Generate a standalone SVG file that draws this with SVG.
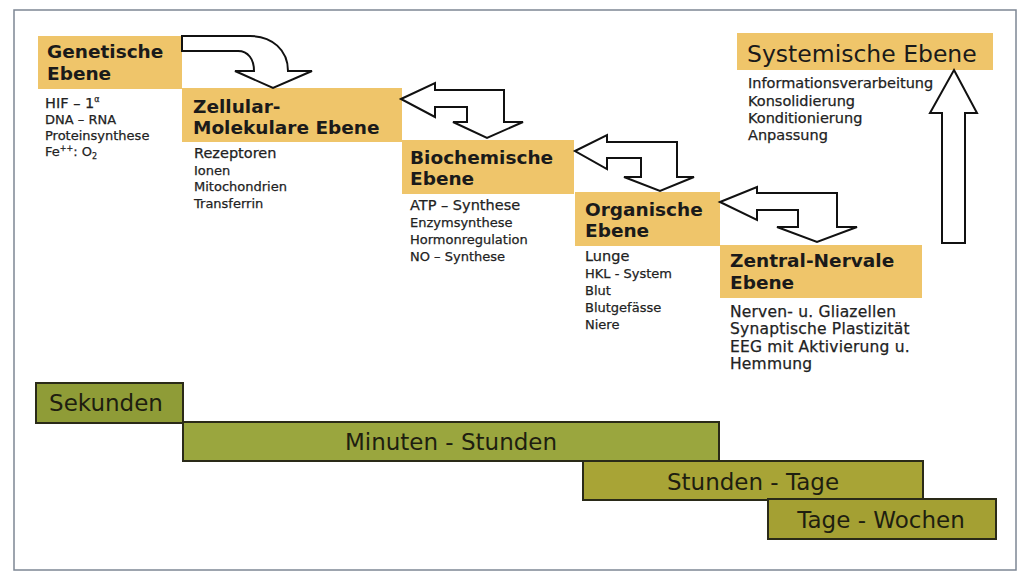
<svg xmlns="http://www.w3.org/2000/svg" width="1024" height="584" viewBox="0 0 1024 584">
<style>
.box{fill:#efc56a}
.title{font-family:"DejaVu Sans","Verdana",sans-serif;font-weight:bold;font-size:18.5px;fill:#1a1a1a}
.item{font-family:"DejaVu Sans","Verdana",sans-serif;font-size:13px;fill:#222;stroke:#222;stroke-width:0.25}
.big{font-size:14.5px}
.zn{font-size:15.5px;letter-spacing:0.2px}
.sy{font-size:14.5px}
.bar{stroke:#2a2a18;stroke-width:2}
.bartext{font-family:"DejaVu Sans","Verdana",sans-serif;font-size:23px;fill:#1e1e10;text-anchor:middle}
.arrow{fill:#fff;stroke:#111;stroke-width:2;stroke-linejoin:miter}
</style>
<rect x="0" y="0" width="1024" height="584" fill="#fff"/>
<rect x="14" y="10" width="1002" height="560" fill="none" stroke="#7d8794" stroke-width="1.5"/>

<g id="genetische">
<rect class="box" x="38" y="36" width="144" height="53"/>
<text class="title" x="47" y="58">Genetische</text>
<text class="title" x="47" y="80">Ebene</text>
<text class="item big" x="45" y="108">HIF – 1<tspan font-size="8" dy="-6">α</tspan></text>
<text class="item" x="45" y="124">DNA – RNA</text>
<text class="item" x="45" y="140">Proteinsynthese</text>
<text class="item" x="45" y="156">Fe<tspan font-size="8" dy="-5">++</tspan><tspan dy="5">: O</tspan><tspan font-size="8" dy="3">2</tspan></text>
</g>

<g id="zellular">
<rect class="box" x="182" y="88" width="220" height="54"/>
<text class="title" x="193" y="113">Zellular-</text>
<text class="title" x="193" y="134">Molekulare Ebene</text>
<text class="item big" x="194" y="158">Rezeptoren</text>
<text class="item" x="194" y="175">Ionen</text>
<text class="item" x="194" y="191">Mitochondrien</text>
<text class="item" x="194" y="208">Transferrin</text>
</g>

<g id="biochemische">
<rect class="box" x="402" y="140" width="172" height="54"/>
<text class="title" x="410" y="164">Biochemische</text>
<text class="title" x="410" y="185">Ebene</text>
<text class="item big" x="410" y="210">ATP – Synthese</text>
<text class="item" x="410" y="227">Enzymsynthese</text>
<text class="item" x="410" y="244">Hormonregulation</text>
<text class="item" x="410" y="261">NO – Synthese</text>
</g>

<g id="organische">
<rect class="box" x="575" y="192" width="145" height="54"/>
<text class="title" x="585" y="216">Organische</text>
<text class="title" x="585" y="237">Ebene</text>
<text class="item big" x="585" y="261">Lunge</text>
<text class="item" x="585" y="278">HKL - System</text>
<text class="item" x="585" y="295">Blut</text>
<text class="item" x="585" y="312">Blutgefässe</text>
<text class="item" x="585" y="329">Niere</text>
</g>

<g id="zentral">
<rect class="box" x="720" y="245" width="202" height="53"/>
<text class="title" x="730" y="267">Zentral-Nervale</text>
<text class="title" x="730" y="289">Ebene</text>
<text class="item zn" x="730" y="317">Nerven- u. Gliazellen</text>
<text class="item zn" x="730" y="334">Synaptische Plastizität</text>
<text class="item zn" x="730" y="352">EEG mit Aktivierung u.</text>
<text class="item zn" x="730" y="369">Hemmung</text>
</g>

<g id="systemische">
<rect class="box" x="737" y="33" width="256" height="37"/>
<text x="747" y="62" font-family="DejaVu Sans, Verdana, sans-serif" font-size="23.5" fill="#1a1a1a">Systemische Ebene</text>
<text class="item sy" x="748" y="88">Informationsverarbeitung</text>
<text class="item sy" x="748" y="106">Konsolidierung</text>
<text class="item sy" x="748" y="123">Konditionierung</text>
<text class="item sy" x="748" y="140">Anpassung</text>
</g>

<g id="connectors">
<path class="arrow" d="M182,36 L250,36 C272,36 288,50 288,71 L312,71 L273,88 L235,71 L254,71 C254,59 248,51 238,51 L182,51 Z"/>
<path class="arrow" d="M401,99 L435,83 L435,90 L504,90 L504,122 L523,122 L487,138 L453,122 L467,122 L467,107 L435,107 L435,117 Z"/>
<path class="arrow" d="M575,151 L607,135 L607,142 L677,142 L677,177 L694,177 L660,191 L624,177 L641,177 L641,158 L607,158 L607,169 Z"/>
<path class="arrow" d="M720,202 L757,187 L757,193 L837,193 L837,227 L857,227 L817,242 L777,227 L798,227 L798,210 L757,210 L757,220 Z"/>
<path class="arrow" d="M954,70 L977,113 L965,113 L965,243 L942,243 L942,113 L930,113 Z"/>
</g>

<g id="timeline">
<g id="sekunden">
<rect class="bar" x="36" y="383" width="147" height="40" fill="#8f9c37"/>
<text class="bartext" x="106" y="411">Sekunden</text>
</g>
<g id="minuten">
<rect class="bar" x="183" y="422" width="536" height="39" fill="#9aa63e"/>
<text class="bartext" x="451" y="450">Minuten - Stunden</text>
</g>
<g id="stunden">
<rect class="bar" x="583" y="461" width="340" height="39" fill="#a8a436"/>
<text class="bartext" x="753" y="490">Stunden - Tage</text>
</g>
<g id="tage">
<rect class="bar" x="768" y="499" width="228" height="40" fill="#a4a033"/>
<text class="bartext" x="881" y="528">Tage - Wochen</text>
</g>
</g>
</svg>
